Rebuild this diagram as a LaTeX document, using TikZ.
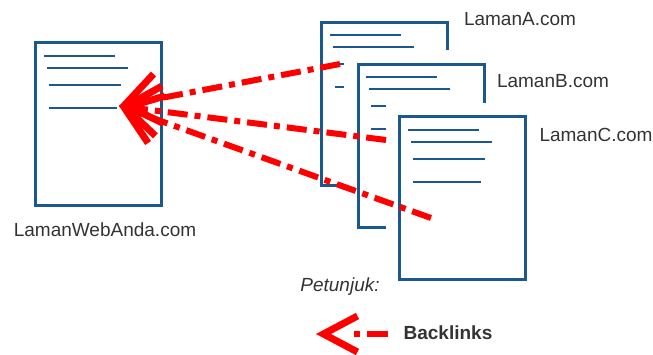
\documentclass[tikz,border=0pt]{standalone}
\usepackage{fontspec}
\setmainfont{Liberation Sans}
\usetikzlibrary{arrows.meta,calc}

\definecolor{pageblue}{RGB}{26,88,142}
\definecolor{txtgray}{RGB}{51,51,51}

\tikzset{
  page/.style={draw=pageblue, line width=1.5pt, fill=white, minimum width=63pt,
    minimum height=81.5pt, inner sep=0pt,
    preaction={draw=white, fill=white, line width=14pt}},
  txtline/.style={draw=pageblue, line width=1pt},
  backlink/.style={draw=red, line width=3pt,
    dash pattern=on 10pt off 3.5pt on 3pt off 3.5pt,
    -{Straight Barb[length=17pt,width=25pt,line width=3.5pt]}},
  lbl/.style={text=txtgray, font=\fontsize{9.5pt}{11pt}\selectfont, inner sep=0pt}
}

% four text rules inside a page
\newcommand{\txtlines}[1]{%
  \foreach \dy/\xa/\xb in {14.5/9.5/80.5, 26.5/12.5/93.5, 43.5/14.5/86.5, 66.5/14.5/82.5}
    \draw[txtline] ($(#1.north west)+(\xa,\dy)$) -- ($(#1.north west)+(\xb,\dy)$);
}

\begin{document}
\begin{tikzpicture}[x=0.5pt, y=-0.5pt]
\useasboundingbox (0,0) rectangle (653,354);

% your page
\node[page] (web) at (98.5,124) {};
\txtlines{web}
\node[lbl] (webname) at (105,230) {LamanWebAnda.com};

% linking pages
\node[page] (pa) at (384.5,103.5) {};
\txtlines{pa}
\node[page] (pb) at (421,145.5) {};
\txtlines{pb}
\node[page] (pc) at (462.5,198) {};
\txtlines{pc}
\node[lbl] (namea) at (520,19) {LamanA.com};
\node[lbl] (nameb) at (553,81) {LamanB.com};
\node[lbl] (namec) at (596,135) {LamanC.com};

% backlinks
\coordinate (tip) at (119,106);
\coordinate (enda) at (340,64);
\coordinate (endb) at (386,140);
\coordinate (endc) at (431,218);
\draw[backlink] (enda) -- (tip);
\draw[backlink] (endb) -- (tip);
\draw[backlink] (endc) -- (tip);

% legend
\node[lbl, font=\fontsize{9.5pt}{11pt}\selectfont\itshape] (hint) at (340,287) {Petunjuk:};
\node[lbl, font=\fontsize{9.5pt}{11pt}\selectfont\bfseries] (back) at (448,333) {Backlinks};
\coordinate (legtip) at (316,334);
\coordinate (legstart) at (388,334);
\draw[backlink, dash pattern=on 10.5pt off 3.5pt on 3pt off 20pt,
  -{Straight Barb[length=17pt,width=18pt,line width=3.5pt]}] (legstart) -- (legtip);
\end{tikzpicture}
\end{document}
